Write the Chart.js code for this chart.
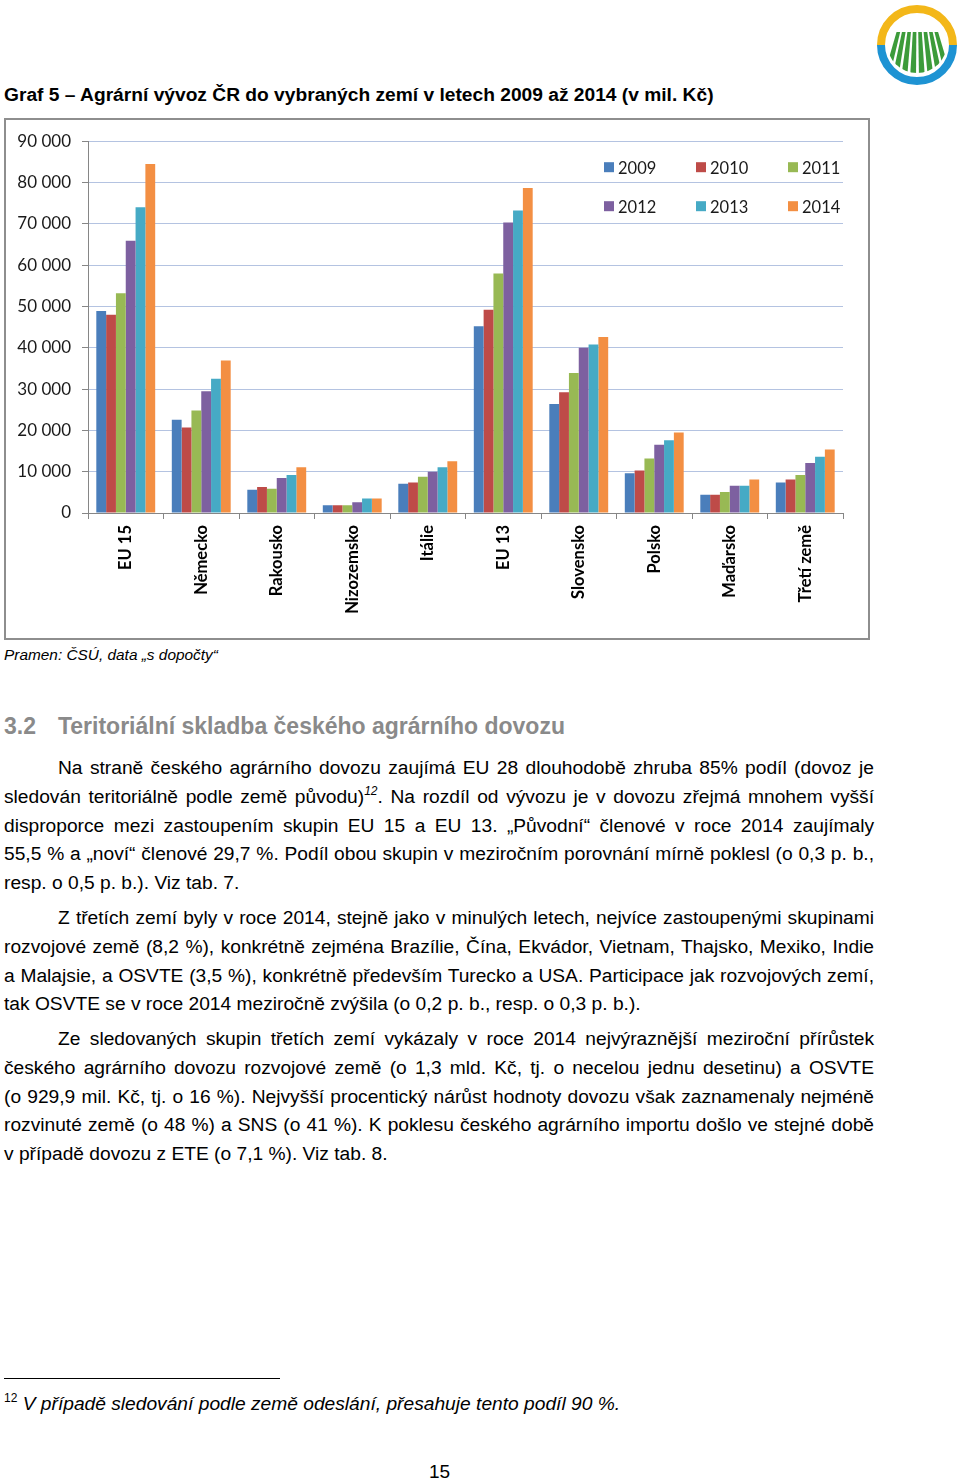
<!DOCTYPE html>
<html>
<head>
<meta charset="UTF-8">
<title>Graf 5 - Agrarni vyvoz</title>
<script src="https://cdn.jsdelivr.net/npm/chart.js@4.4.1/dist/chart.umd.min.js"></script>
<style>
  body { margin: 0; background: #fff; font-family: "Liberation Sans", Arial, sans-serif; color: #000; }
  .page { position: relative; width: 960px; height: 1480px; overflow: hidden; }
  .abs { position: absolute; }
  .title { left: 4px; top: 83px; font-weight: bold; font-size: 19.2px; line-height: 24px; white-space: nowrap; }
  #box { left: 4px; top: 118px; width: 866px; height: 522px; border: 2px solid #8e8e8e; box-sizing: border-box; }
  .src { left: 4px; top: 645px; font-style: italic; font-size: 15.4px; line-height: 20px; white-space: nowrap; }
  .h2 { left: 4px; top: 712px; font-weight: bold; font-size: 23px; line-height: 28px; color: #8a8a8a; white-space: nowrap; }
  .para { left: 4px; width: 870px; font-size: 19.2px; line-height: 28.8px; }
  .para div { text-align: justify; text-align-last: justify; white-space: nowrap; }
  .para div.last { text-align-last: left; }
  .para div.ind { padding-left: 54px; }
  sup { font-size: 12px; line-height: 0; vertical-align: 8px; }
  .rule { left: 4px; top: 1378px; width: 276px; height: 0; border-top: 1px solid #000; }
  .fn { left: 4px; top: 1391px; font-size: 19.2px; line-height: 26px; white-space: nowrap; }
  .pn { left: 429px; top: 1461px; font-size: 19px; line-height: 22px; }
</style>
</head>
<body>
<div class="page">
  <svg class="abs" style="left:875px;top:1px" width="84" height="84">
    <defs>
      <clipPath id="cc"><circle cx="42" cy="42" r="30"/></clipPath>
      <clipPath id="cr"><rect x="0" y="31" width="84" height="60"/></clipPath>
    </defs>
    <path d="M 6 44 A 36 36 0 0 1 78 44" fill="none" stroke="#f3b719" stroke-width="8"/>
    <path d="M 78 44 A 36 36 0 0 1 6 44" fill="none" stroke="#1e93d3" stroke-width="8"/>
    <g clip-path="url(#cc)"><g clip-path="url(#cr)" fill="#3c9b3a">
      <polygon points="8,78 14,78 25.9,28 22.4,28"/>
      <polygon points="17,78 23,78 31.1,28 27.6,28"/>
      <polygon points="26,78 32,78 36.2,28 32.8,28"/>
      <polygon points="35,78 41,78 41.4,28 38.0,28"/>
      <polygon points="44,78 50,78 46.6,28 43.2,28"/>
      <polygon points="53,78 59,78 51.8,28 48.3,28"/>
      <polygon points="62,78 68,78 57.0,28 53.5,28"/>
      <polygon points="71,78 77,78 62.2,28 58.7,28"/>
    </g></g>
  </svg>

  <div class="abs title">Graf 5 – Agrární vývoz ČR do vybraných zemí v letech 2009 až 2014 (v mil. Kč)</div>

  <div id="box" class="abs"><canvas id="grafica" width="862" height="518"></canvas></div>

  <div class="abs src">Pramen: ČSÚ, data „s dopočty“</div>

  <div class="abs h2">3.2<span style="display:inline-block;width:22px"></span>Teritoriální skladba českého agrárního dovozu</div>

  <div class="abs para" style="top:754px">
    <div class="ind">Na straně českého agrárního dovozu zaujímá EU 28 dlouhodobě zhruba 85% podíl (dovoz je</div>
    <div>sledován teritoriálně podle země původu)<sup><i>12</i></sup>. Na rozdíl od vývozu je v dovozu zřejmá mnohem vyšší</div>
    <div>disproporce mezi zastoupením skupin EU 15 a EU 13. „Původní“ členové v roce 2014 zaujímaly</div>
    <div>55,5 % a „noví“ členové 29,7 %. Podíl obou skupin v meziročním porovnání mírně poklesl (o 0,3 p. b.,</div>
    <div class="last">resp. o 0,5 p. b.). Viz tab. 7.</div>
  </div>

  <div class="abs para" style="top:904px">
    <div class="ind">Z třetích zemí byly v roce 2014, stejně jako v minulých letech, nejvíce zastoupenými skupinami</div>
    <div>rozvojové země (8,2 %), konkrétně zejména Brazílie, Čína, Ekvádor, Vietnam, Thajsko, Mexiko, Indie</div>
    <div>a Malajsie, a OSVTE (3,5 %), konkrétně především Turecko a USA. Participace jak rozvojových zemí,</div>
    <div class="last">tak OSVTE se v roce 2014 meziročně zvýšila (o 0,2 p. b., resp. o 0,3 p. b.).</div>
  </div>

  <div class="abs para" style="top:1025px">
    <div class="ind">Ze sledovaných skupin třetích zemí vykázaly v roce 2014 nejvýraznější meziroční přírůstek</div>
    <div>českého agrárního dovozu rozvojové země (o 1,3 mld. Kč, tj. o necelou jednu desetinu) a OSVTE</div>
    <div>(o 929,9 mil. Kč, tj. o 16 %). Nejvyšší procentický nárůst hodnoty dovozu však zaznamenaly nejméně</div>
    <div>rozvinuté země (o 48 %) a SNS (o 41 %). K poklesu českého agrárního importu došlo ve stejné době</div>
    <div class="last">v případě dovozu z ETE (o 7,1 %). Viz tab. 8.</div>
  </div>

  <div class="abs rule"></div>
  <div class="abs fn"><sup>12</sup> <i>V případě sledování podle země odeslání, přesahuje tento podíl 90 %.</i></div>
  <div class="abs pn">15</div>
</div>

<script>
// zeme / skupiny
var zeme = ["EU 15", "Německo", "Rakousko", "Nizozemsko", "Itálie", "EU 13", "Slovensko", "Polsko", "Maďarsko", "Třetí země"];
var roky = ["2009", "2010", "2011", "2012", "2013", "2014"];
var barvy = ["#4a7ebb", "#be4b48", "#98b954", "#7d60a0", "#46aac5", "#f38f43"];

// vyvoz v mil. Kc
var v2009 = [48900, 22600, 5600, 1900, 7100, 45200, 26400, 9600, 4400, 7400];
var v2010 = [48000, 20700, 6300, 1900, 7400, 49200, 29200, 10300, 4400, 8100];
var v2011 = [53200, 24800, 5900, 1900, 8800, 58000, 33900, 13200, 5100, 9200];
var v2012 = [65900, 29500, 8500, 2600, 10000, 70300, 40000, 16500, 6600, 12100];
var v2013 = [74000, 32500, 9200, 3500, 11100, 73200, 40800, 17600, 6600, 13600];
var v2014 = [84500, 36900, 11100, 3500, 12500, 78700, 42600, 19500, 8100, 15400];
var hodnoty = [v2009, v2010, v2011, v2012, v2013, v2014];

var osaY = { min: 0, max: 90000, krok: 10000 };

function formatCislo(v) {
  return String(v).replace(/\B(?=(\d{3})+(?!\d))/g, " ");
}

// legenda uvnitr grafu, 3 sloupce x 2 radky
var legendaPlugin = {
  id: "legenda",
  afterDraw: function(chart) {
    var ctx = chart.ctx;
    var a = chart.chartArea;
    var sloupce = [a.right - 239, a.right - 147, a.right - 55];
    var radky = [a.top + 26, a.top + 65];
    ctx.save();
    ctx.font = "16.5px Lato";
    ctx.textBaseline = "middle";
    ctx.textAlign = "left";
    chart.data.datasets.forEach(function(ds, i) {
      var x = sloupce[i % 3];
      var y = radky[Math.floor(i / 3)];
      ctx.fillStyle = ds.backgroundColor;
      ctx.fillRect(x, y - 5, 10, 10);
      ctx.fillStyle = "#1a1a1a";
      ctx.fillText(ds.label, x + 14, y + 1);
    });
    ctx.restore();
  }
};

var miCanvas = document.getElementById("grafica").getContext("2d");
var chart = new Chart(miCanvas, {
  type: "bar",
  data: {
    labels: zeme,
    datasets: roky.map(function(r, i) {
      return { label: r, data: hodnoty[i], backgroundColor: barvy[i], borderWidth: 0 };
    })
  },
  options: {
    responsive: false,
    animation: false,
    layout: { padding: { top: 20, right: 25, left: 0, bottom: 0 } },
    datasets: { bar: { categoryPercentage: 0.78, barPercentage: 1.0 } },
    plugins: { legend: { display: false }, tooltip: { enabled: false } },
    scales: {
      x: {
        afterFit: function(s) { s.height = 125; },
        grid: { drawOnChartArea: false, tickLength: 6, tickColor: "#868686", offset: true },
        border: { color: "#868686", width: 1 },
        ticks: {
          minRotation: 90, maxRotation: 90, autoSkip: false, padding: 6,
          color: "#000", font: { family: "Lato", size: 16.5, weight: "bold" }
        }
      },
      y: {
        min: osaY.min, max: osaY.max,
        afterFit: function(s) { s.width = 82; },
        grid: { color: "#b4c3e1", lineWidth: 1, tickLength: 6, tickColor: "#868686" },
        border: { color: "#868686", width: 1 },
        ticks: {
          stepSize: osaY.krok, padding: 11, color: "#1a1a1a",
          font: { family: "Lato", size: 17 },
          callback: function(v) { return formatCislo(v); }
        }
      }
    }
  },
  plugins: [legendaPlugin]
});
</script>
</body>
</html>
